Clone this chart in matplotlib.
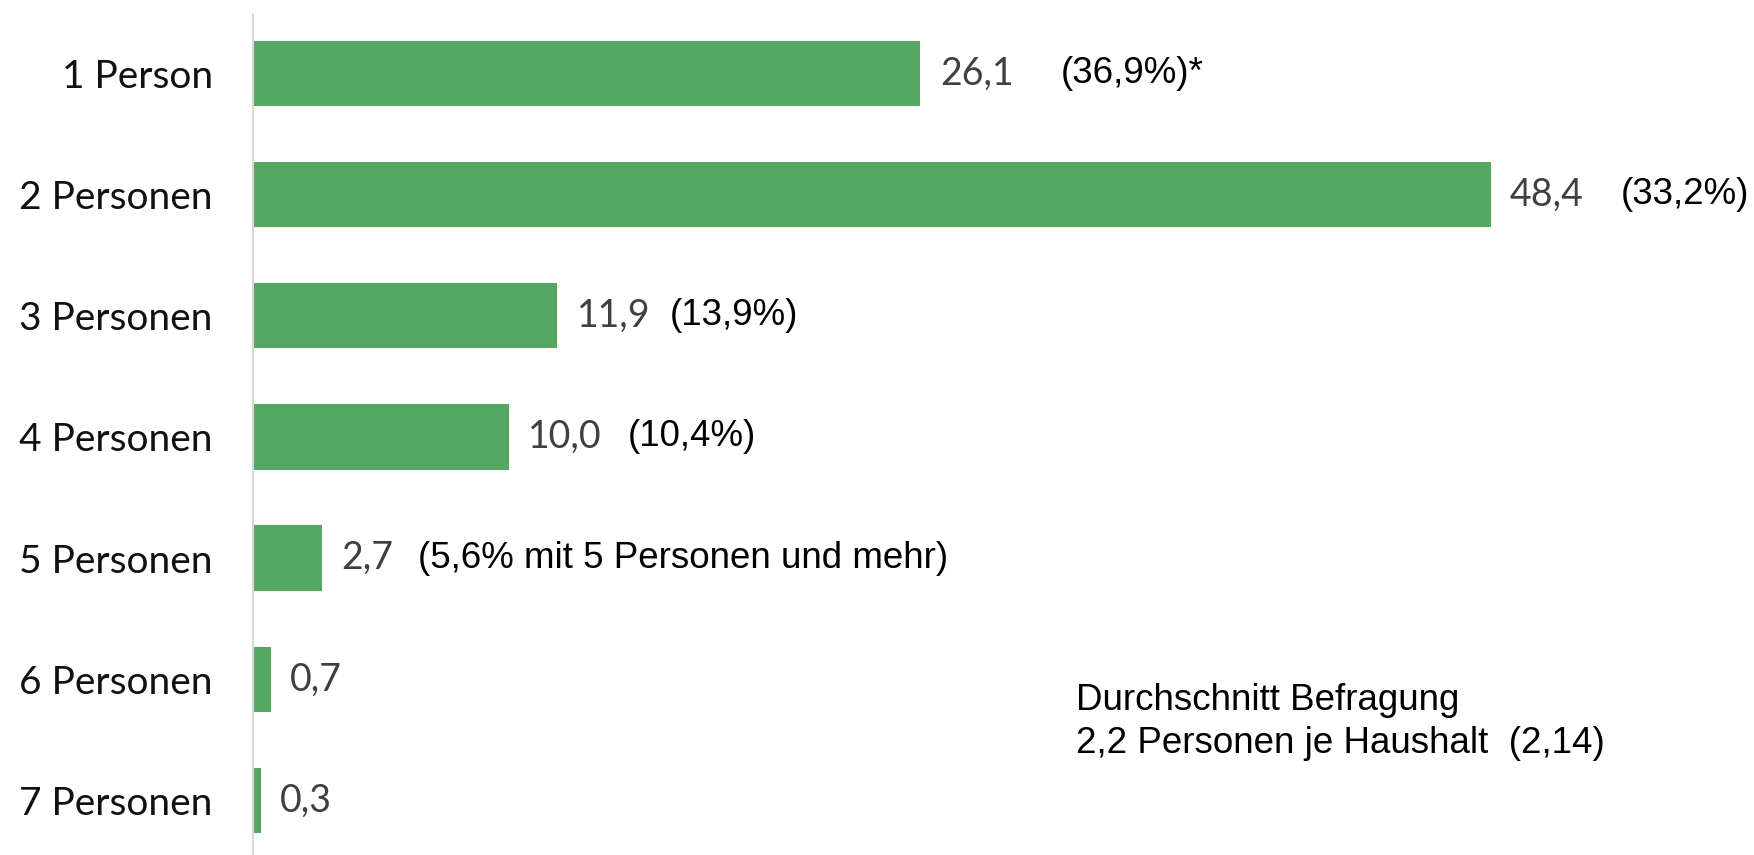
import matplotlib
matplotlib.use('Agg')
import matplotlib.pyplot as plt

# Haushaltsgröße - Anteil in %
categories = ['1 Person', '2 Personen', '3 Personen', '4 Personen',
              '5 Personen', '6 Personen', '7 Personen']
values = [26.1, 48.4, 11.9, 10.0, 2.7, 0.7, 0.3]
compare_labels = ['(36,9%)*', '(33,2%)', '(13,9%)', '(10,4%)',
                  '(5,6% mit 5 Personen und mehr)']
# Abstand Balkenende -> Vergleichstext (Punkte)
compare_offsets = [101, 94, 81, 86, 69]
note = 'Durchschnitt Befragung\n2,2 Personen je Haushalt  (2,14)'

bar_color = '#55a862'
label_font = 'Lato'
arial = 'Liberation Sans'

fig = plt.figure(figsize=(17.54, 8.55), dpi=100)
ax = fig.add_axes([253 / 1754, 0, 1 - 253 / 1754, 1 - 14 / 855])

y = range(len(categories))
bars = ax.barh(y, values, height=0.54, color=bar_color)

ax.set_xlim(0, 58.7)
ax.set_ylim(6.45, -0.49)

for s in ['top', 'right', 'bottom']:
    ax.spines[s].set_visible(False)
ax.spines['left'].set_color('#d9d9d9')
ax.spines['left'].set_linewidth(1.5)
ax.set_xticks([])
ax.set_yticks(list(y))
ax.set_yticklabels(categories, fontsize=28, family=label_font, color='#111111')
ax.tick_params(axis='y', length=0, pad=29)

# Werte rechts neben den Balken
for i, v in enumerate(values):
    ax.annotate(f'{v:.1f}'.replace('.', ','), xy=(v, i), xytext=(14, 0),
                textcoords='offset points', ha='left', va='center',
                fontsize=27, family=label_font, color='#404040')

# Vergleichswerte in Klammern
for i, (txt, off) in enumerate(zip(compare_labels, compare_offsets)):
    ax.annotate(txt, xy=(values[i], i), xytext=(off, 0),
                textcoords='offset points', ha='left', va='center',
                fontsize=26.5, family=arial, color='black')

fig.text(1076 / 1754, 1 - 722 / 855, note, ha='left', va='center',
         fontsize=26.5, family=arial, color='black', linespacing=1.3)

plt.savefig('out.png', dpi=100)
plt.close()
